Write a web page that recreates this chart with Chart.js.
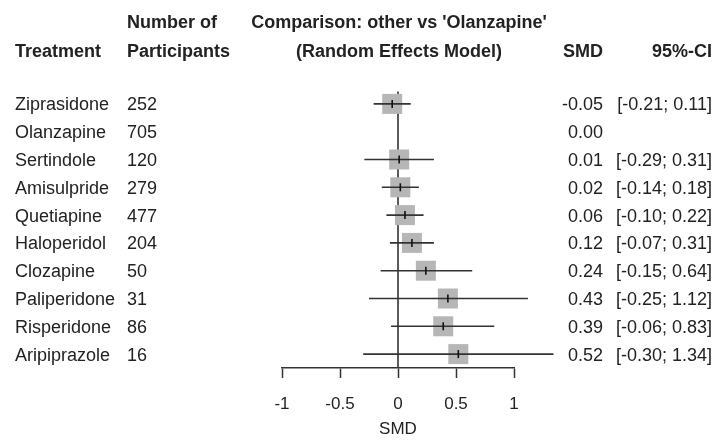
<!DOCTYPE html>
<html>
<head>
<meta charset="utf-8">
<script src="https://cdn.jsdelivr.net/npm/chart.js@4.4.1/dist/chart.umd.min.js"></script>
<style>
  html, body { margin: 0; padding: 0; background: #ffffff; }
  #wrap { width: 717px; height: 441px; }
</style>
</head>
<body>
<div id="wrap"><canvas id="forest" width="717" height="441"></canvas></div>
<script>
// Network meta-analysis: each treatment compared with Olanzapine (random effects)
const treatments = ['Ziprasidone', 'Olanzapine', 'Sertindole', 'Amisulpride', 'Quetiapine',
                    'Haloperidol', 'Clozapine', 'Paliperidone', 'Risperidone', 'Aripiprazole'];
const participants = [252, 705, 120, 279, 477, 204, 50, 31, 86, 16];
const smd = [-0.05, 0.00, 0.01, 0.02, 0.06, 0.12, 0.24, 0.43, 0.39, 0.52];
const ciLower = [-0.21, null, -0.29, -0.14, -0.10, -0.07, -0.15, -0.25, -0.06, -0.30];
const ciUpper = [0.11, null, 0.31, 0.18, 0.22, 0.31, 0.64, 1.12, 0.83, 1.34];
const isReference = [false, true, false, false, false, false, false, false, false, false];

const xTickValues = [-1, -0.5, 0, 0.5, 1];
const xTickLabels = ['-1', '-0.5', '0', '0.5', '1'];

const FONT = '"Liberation Sans", Arial, Helvetica, sans-serif';
const INK = '#222222';
const LINE = '#333333';

// point estimates (square + small vertical mark) for non-reference rows
const estimatePoints = [];
treatments.forEach((t, i) => {
  if (!isReference[i]) estimatePoints.push({ x: smd[i], y: i });
});

// one line dataset per confidence interval
const ciDatasets = [];
treatments.forEach((t, i) => {
  if (ciLower[i] === null) return;
  ciDatasets.push({
    type: 'line',
    label: t + ' CI',
    data: [{ x: ciLower[i], y: i }, { x: ciUpper[i], y: i }],
    borderColor: LINE,
    borderWidth: 1.6,
    pointRadius: 0,
    fill: false,
    clip: false
  });
});

// text columns and headers
const tablePlugin = {
  id: 'forestTable',
  afterDraw(chart) {
    const ctx = chart.ctx;
    const yScale = chart.scales.y;
    ctx.save();
    ctx.fillStyle = INK;

    // headers
    ctx.font = 'bold 18px ' + FONT;
    ctx.textBaseline = 'alphabetic';
    ctx.textAlign = 'left';
    ctx.fillText('Number of', 127, 28);
    ctx.fillText('Treatment', 15, 57);
    ctx.fillText('Participants', 127, 57);
    ctx.textAlign = 'center';
    ctx.fillText("Comparison: other vs 'Olanzapine'", 399, 28);
    ctx.fillText('(Random Effects Model)', 399, 57);
    ctx.textAlign = 'right';
    ctx.fillText('SMD', 603, 57);
    ctx.fillText('95%-CI', 712, 57);

    // rows
    ctx.font = '18px ' + FONT;
    treatments.forEach((t, i) => {
      const y = yScale.getPixelForValue(i) + 6.5;
      ctx.textAlign = 'left';
      ctx.fillText(t, 15, y);
      ctx.fillText(String(participants[i]), 127, y);
      ctx.textAlign = 'right';
      ctx.fillText(smd[i].toFixed(2), 603, y);
      if (ciLower[i] !== null) {
        ctx.fillText('[' + ciLower[i].toFixed(2) + '; ' + ciUpper[i].toFixed(2) + ']', 712, y);
      }
    });
    ctx.restore();
  }
};

new Chart(document.getElementById('forest'), {
  type: 'scatter',
  data: {
    datasets: [
      {
        label: 'estimate mark',
        data: estimatePoints,
        pointStyle: 'line',
        rotation: 90,
        pointRadius: 4,
        borderColor: '#111111',
        borderWidth: 1.6,
        clip: false
      },
      ...ciDatasets,
      {
        label: 'estimate',
        data: estimatePoints,
        pointStyle: 'rect',
        pointRadius: 10 / Math.SQRT1_2,
        backgroundColor: '#b6b6b6',
        borderWidth: 0,
        clip: false
      },
      {
        type: 'line',
        label: 'no effect',
        data: [{ x: 0, y: -0.45 }, { x: 0, y: 9.5 }],
        borderColor: LINE,
        borderWidth: 1.6,
        pointRadius: 0,
        fill: false
      }
    ]
  },
  options: {
    responsive: false,
    devicePixelRatio: 1,
    animation: false,
    events: [],
    layout: { padding: { top: 90, left: 282, right: 203, bottom: 0 } },
    plugins: {
      legend: { display: false },
      tooltip: { enabled: false }
    },
    scales: {
      x: {
        type: 'linear',
        min: -1,
        max: 1,
        afterBuildTicks(scale) {
          scale.ticks = xTickValues.map(v => ({ value: v }));
        },
        afterFit(scale) { scale.height = 73; },
        ticks: {
          callback: (v) => xTickLabels[xTickValues.indexOf(v)],
          font: { family: FONT, size: 17 },
          color: INK,
          padding: 16,
          maxRotation: 0,
          autoSkip: false
        },
        grid: {
          drawOnChartArea: false,
          drawTicks: true,
          tickLength: 10,
          tickWidth: 1.5,
          tickColor: LINE
        },
        border: { display: true, color: LINE, width: 1.5 },
        title: {
          display: true,
          text: 'SMD',
          font: { family: FONT, size: 17 },
          color: INK,
          padding: { top: 0, bottom: 1 }
        }
      },
      y: {
        type: 'linear',
        min: -0.5,
        max: 9.5,
        reverse: true,
        display: false
      }
    }
  },
  plugins: [tablePlugin]
});
</script>
</body>
</html>
